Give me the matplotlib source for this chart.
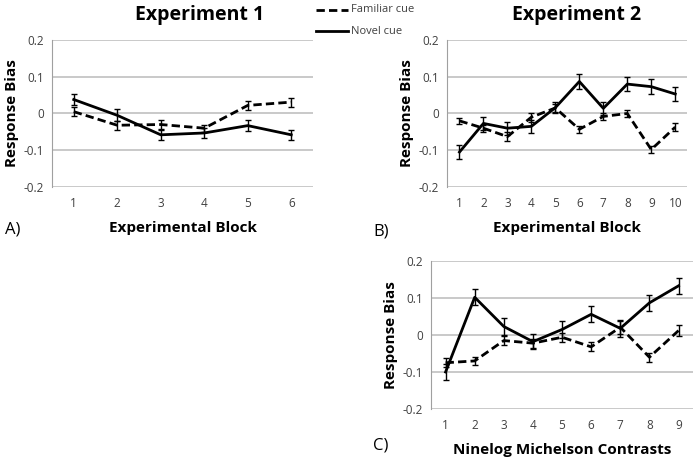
import matplotlib.pyplot as plt

plt.rcParams['font.family'] = ['Open Sans', 'DejaVu Sans']

# Experiment 1
exp1_blocks = [1, 2, 3, 4, 5, 6]
exp1_familiar = [0.005, -0.032, -0.030, -0.040, 0.022, 0.031]
exp1_familiar_err = [0.012, 0.012, 0.012, 0.010, 0.012, 0.012]
exp1_novel = [0.038, -0.005, -0.058, -0.053, -0.033, -0.058]
exp1_novel_err = [0.015, 0.016, 0.014, 0.013, 0.014, 0.014]

# Experiment 2
exp2_blocks = [1, 2, 3, 4, 5, 6, 7, 8, 9, 10]
exp2_familiar = [-0.020, -0.040, -0.063, -0.010, 0.015, -0.043, -0.008, 0.000, -0.098, -0.037]
exp2_familiar_err = [0.008, 0.010, 0.012, 0.012, 0.010, 0.010, 0.010, 0.010, 0.010, 0.010]
exp2_novel = [-0.105, -0.027, -0.040, -0.035, 0.016, 0.087, 0.014, 0.080, 0.073, 0.053]
exp2_novel_err = [0.018, 0.018, 0.018, 0.018, 0.015, 0.020, 0.018, 0.018, 0.020, 0.018]

# Contrast levels
contrasts = [1, 2, 3, 4, 5, 6, 7, 8, 9]
con_familiar = [-0.075, -0.070, -0.015, -0.022, -0.006, -0.032, 0.021, -0.060, 0.012]
con_familiar_err = [0.012, 0.010, 0.012, 0.012, 0.012, 0.012, 0.018, 0.012, 0.015]
con_novel = [-0.100, 0.102, 0.023, -0.018, 0.015, 0.056, 0.018, 0.087, 0.133]
con_novel_err = [0.022, 0.022, 0.022, 0.020, 0.022, 0.022, 0.022, 0.022, 0.022]

yticks = [-0.2, -0.1, 0, 0.1, 0.2]
ytick_labels = ['-0.2', '-0.1', '0', '0.1', '0.2']

fig = plt.figure(figsize=(6.97, 4.58), dpi=100)


def panel(rect, x, fam, fam_err, nov, nov_err, xlabel, xmax):
    ax = fig.add_axes(rect)
    ax.errorbar(x, fam, yerr=fam_err, color='black', lw=2, ls=(0, (3, 1.5)),
                capsize=2.5, elinewidth=1, capthick=1)
    ax.errorbar(x, nov, yerr=nov_err, color='black', lw=2,
                capsize=2.5, elinewidth=1, capthick=1)
    ax.set_xlim(0.5, xmax + 0.5)
    ax.set_ylim(-0.2, 0.2)
    ax.set_xticks(x)
    ax.set_yticks(yticks)
    ax.set_yticklabels(ytick_labels)
    ax.yaxis.grid(True, color='#c0c0c0', lw=1.2)
    ax.set_axisbelow(True)
    for s in ['top', 'right', 'bottom']:
        ax.spines[s].set_visible(False)
    ax.spines['left'].set_color('#a0a0a0')
    ax.tick_params(length=0, labelsize=8.5, colors='#404040', pad=7)
    ax.tick_params(axis='y', pad=6)
    ax.set_ylabel('Response Bias', fontsize=11, fontweight='bold', labelpad=3)
    ax.set_xlabel(xlabel, fontsize=11, fontweight='bold', labelpad=8)
    return ax


axA = panel([0.0746, 0.5917, 0.3745, 0.321], exp1_blocks, exp1_familiar, exp1_familiar_err,
            exp1_novel, exp1_novel_err, 'Experimental Block', 6)
axB = panel([0.642, 0.5917, 0.344, 0.321], exp2_blocks, exp2_familiar, exp2_familiar_err,
            exp2_novel, exp2_novel_err, 'Experimental Block', 10)
axC = panel([0.6184, 0.107, 0.376, 0.323], contrasts, con_familiar, con_familiar_err,
            con_novel, con_novel_err, 'Ninelog Michelson Contrasts', 9)

fig.text(200 / 697, 1 - 15 / 458, 'Experiment 1', ha='center', va='center',
         fontsize=14, fontweight='bold')
fig.text(577 / 697, 1 - 15 / 458, 'Experiment 2', ha='center', va='center',
         fontsize=14, fontweight='bold')

# legend drawn in figure space
fig.add_artist(plt.Line2D([316 / 697, 348 / 697], [1 - 10 / 458] * 2, color='black',
                          lw=2, ls=(0, (3, 1.5))))
fig.add_artist(plt.Line2D([316 / 697, 348 / 697], [1 - 31 / 458] * 2, color='black', lw=2))
fig.text(351 / 697, 1 - 10 / 458, 'Familiar cue', va='center', fontsize=8, color='#404040')
fig.text(351 / 697, 1 - 31 / 458, 'Novel cue', va='center', fontsize=8, color='#404040')

fig.text(5 / 697, 1 - 230 / 458, 'A)', va='center', fontsize=12)
fig.text(373 / 697, 1 - 232 / 458, 'B)', va='center', fontsize=12)
fig.text(373 / 697, 1 - 445 / 458, 'C)', va='center', fontsize=12)

fig.savefig('out.png', dpi=100)
